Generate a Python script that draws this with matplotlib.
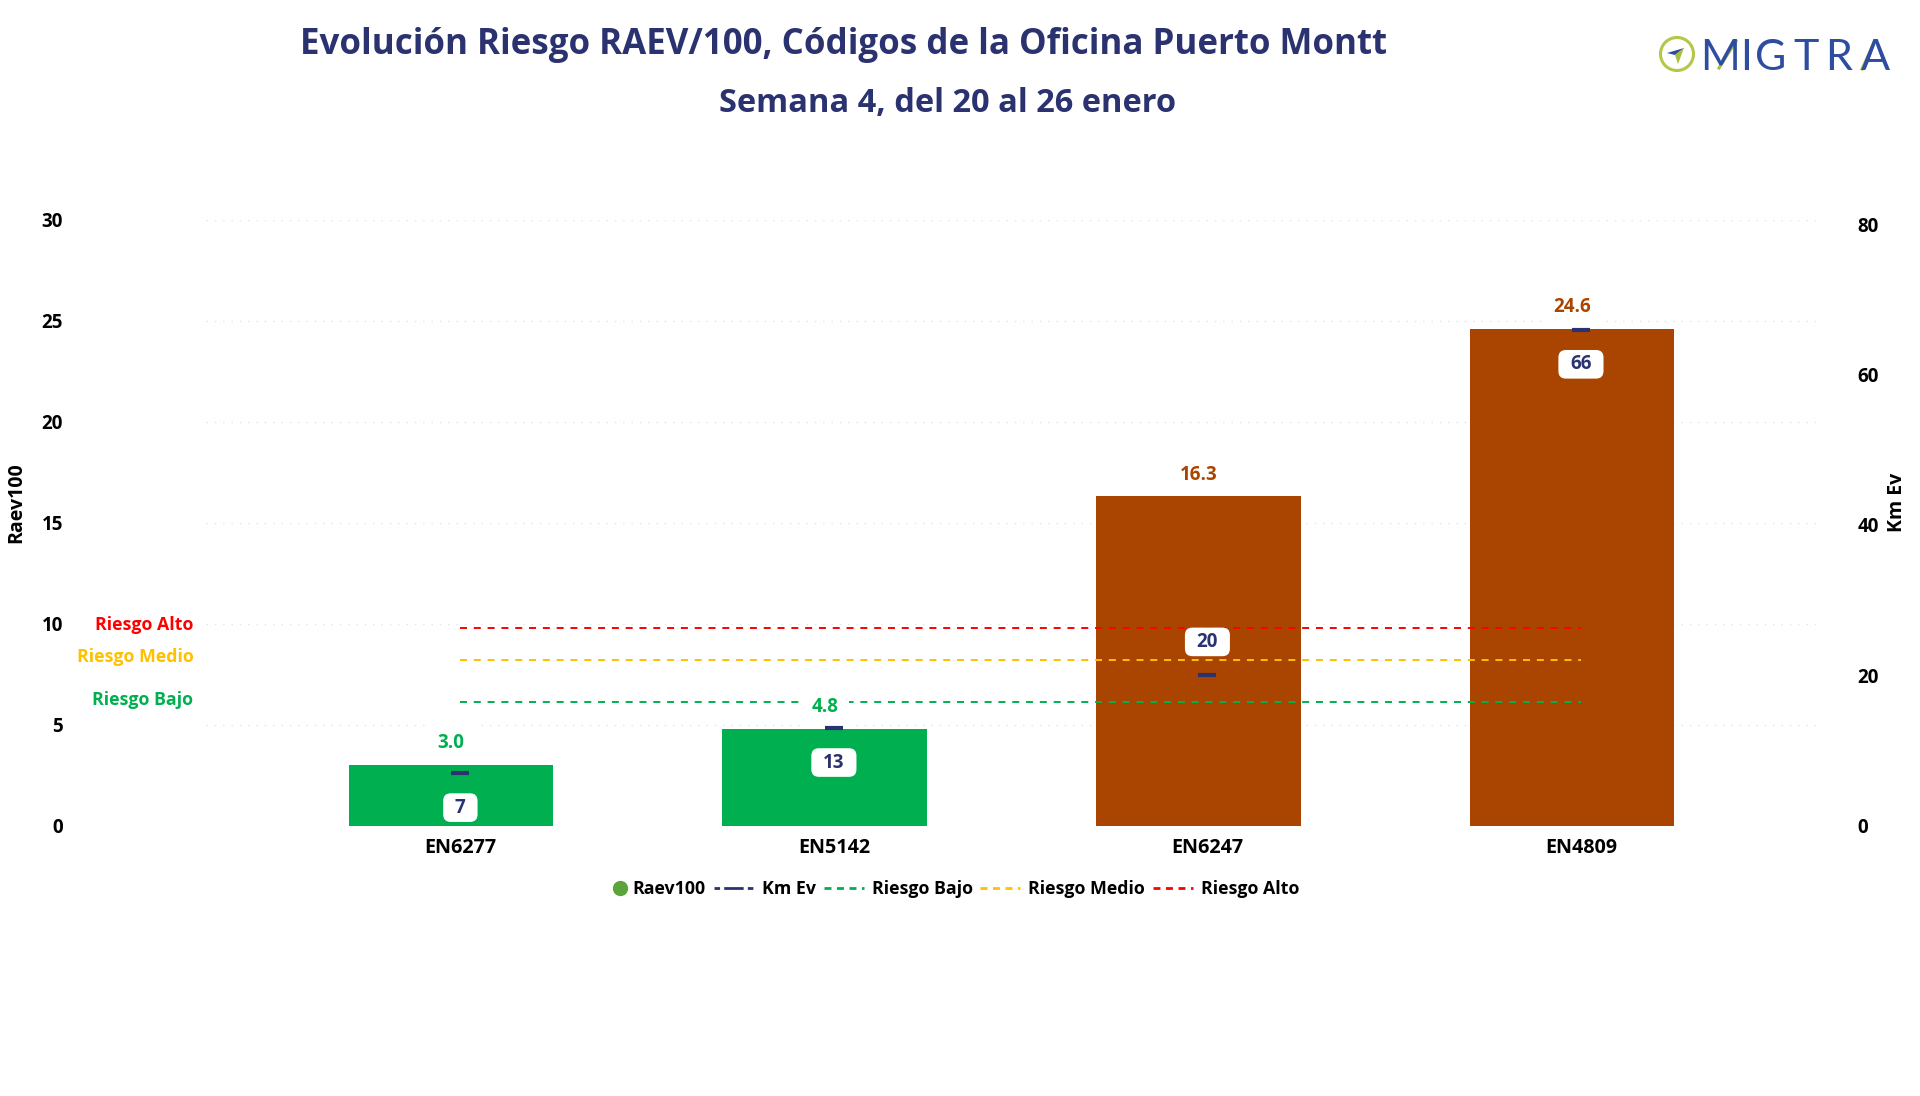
#!/usr/bin/env python
# Riesgo RAEV/100 por codigo, oficina Puerto Montt
import matplotlib
matplotlib.use('Agg')
import matplotlib.pyplot as plt
from matplotlib.lines import Line2D
from matplotlib.patches import BoxStyle, Circle, Polygon

codes = ['EN6277', 'EN5142', 'EN6247', 'EN4809']
raev100 = [3.0, 4.8, 16.3, 24.6]
km_ev = [7, 13, 20, 66]
risk_names = ['Riesgo Bajo', 'Riesgo Medio', 'Riesgo Alto']
risk_levels = [6.1, 8.2, 9.8]
left_ticks = [0, 5, 10, 15, 20, 25, 30]
right_ticks = [0, 20, 40, 60, 80]

GREEN = '#00B050'
BROWN = '#A94500'
NAVY = '#2B3270'
risk_colors = [GREEN, '#FFC000', '#FF0000']
bar_colors = [GREEN, GREEN, BROWN, BROWN]
BAR_SHIFT = -0.0245

W, H = 1920, 1096
plt.rcParams['font.family'] = ['Open Sans', 'DejaVu Sans']
plt.rcParams['font.weight'] = 'bold'
plt.rcParams['axes.labelweight'] = 'bold'


def fx(px):
    return px / W


def fy(px):
    return 1 - px / H


def km_box(x0, y0, width, height, mutation_size):
    # Wider than tall, a plain round box has one pad for both directions
    dx = 7.5
    return BoxStyle.Round(pad=0.23, rounding_size=0.4)(
        x0 - dx, y0, width + 2 * dx, height, mutation_size)


fig = plt.figure(figsize=(W / 100, H / 100), dpi=100)
left, right, top, bottom = 206, 1820, 219.5, 825.5
ax = fig.add_axes([fx(left), fy(bottom), (right - left) / W, (bottom - top) / H])
ax2 = ax.twinx()
ax.set_zorder(1)
ax2.set_zorder(2)
ax2.patch.set_visible(False)
xs = list(range(len(codes)))
bar_xs = [x + BAR_SHIFT for x in xs]

# Bars and risk lines
ax.bar(bar_xs, raev100, width=0.5475, color=bar_colors, zorder=2)
for name, level, color in zip(risk_names, risk_levels, risk_colors):
    ax.plot(xs, [level] * len(xs), color=color, lw=1.4, ls=(0, (3.6, 3.5)), zorder=3)
    ax.annotate(name, (0, level), xycoords=ax.get_yaxis_transform(),
                xytext=(-9, 2), textcoords='offset points', ha='right',
                va='center', color=color, fontsize=12.8)
for x, val, color in zip(bar_xs, raev100, bar_colors):
    ax.annotate('%.1f' % val, (x, val), xytext=(0, 15.5), textcoords='offset points',
                ha='center', va='center', color=color, fontsize=13.5, zorder=5,
                bbox=dict(boxstyle='square,pad=0.6', fc='white', ec='none'))

ax.set_xlim(-0.681, 3.640)
ax.set_ylim(0, 30)
ax.set_yticks(left_ticks)
ax.set_xticks(xs, codes)
ax.grid(axis='y', color='#E4E4E4', lw=1, ls=(0, (1, 5)), zorder=0)
ax.set_axisbelow(True)
ax.tick_params(axis='y', length=0, pad=103, labelsize=13.5)
ax.tick_params(axis='x', length=0, pad=9, labelsize=14.2)
ax.set_ylabel('Raev100', fontsize=14)
ax.yaxis.set_label_coords((26 - left) / (right - left), 0.533)

# Km Ev markers and their boxed labels
ax2.plot(xs, km_ev, ls='', marker='_', ms=13, mew=3, color=NAVY, zorder=4)
for i, (x, km) in enumerate(zip(xs, km_ev)):
    dy = 24 if i == 2 else -25
    ax2.annotate(str(km), (x, km), xytext=(0, dy), textcoords='offset points',
                 ha='center', va='center', color=NAVY, fontsize=13.5, zorder=6,
                 bbox=dict(boxstyle=km_box, fc='white', ec='none'))
ax2.set_ylim(0, 80.65)
ax2.set_yticks(right_ticks)
ax2.tick_params(axis='y', length=0, pad=27, labelsize=13.5)
ax2.set_ylabel('Km Ev', fontsize=14)
ax2.yaxis.set_label_coords((1887 - left) / (right - left), 0.533)

for a in (ax, ax2):
    for spine in a.spines.values():
        spine.set_visible(False)

# Legend, two parts because the circle sits close to its text
first = [Line2D([], [], ls='', marker='o', ms=10, color='#5BA33A', label='Raev100')]
rest = [Line2D([], [], color=NAVY, lw=2, ls=(0, (2, 1.5, 7, 1.5)), label='Km Ev')]
for name, color in zip(risk_names, risk_colors):
    rest.append(Line2D([], [], color=color, lw=2, ls=(0, (2.5, 2)), label=name))
fig.legend(handles=first, loc='center right', bbox_to_anchor=(fx(706), fy(889)),
           frameon=False, fontsize=12.8, handlelength=0.8, handletextpad=0.3,
           borderpad=0, borderaxespad=0)
fig.legend(handles=rest, loc='center left', bbox_to_anchor=(fx(714), fy(889)), ncols=4,
           frameon=False, fontsize=12.8, handlelength=2.25, handletextpad=0.45,
           columnspacing=0.43, borderpad=0, borderaxespad=0)

# Titles
fig.text(fx(843), fy(45), 'Evolución Riesgo RAEV/100, Códigos de la Oficina Puerto Montt',
         ha='center', va='center', color=NAVY, fontsize=25.1)
fig.text(fx(948), fy(104), 'Semana 4, del 20 al 26 enero',
         ha='center', va='center', color=NAVY, fontsize=23.5)

# Logo
logo = fig.add_axes([0, 0, 1, 1], zorder=5)
logo.set_axis_off()
logo.set_xlim(0, W)
logo.set_ylim(H, 0)
logo.add_patch(Circle((1677, 54), 16.5, fc='none', ec='#B5C64A', lw=2.2))
logo.add_patch(Polygon([[1684, 48], [1667, 53], [1675, 55]], fc='#2E4A9E', ec='none'))
logo.add_patch(Polygon([[1684, 48], [1675, 55], [1678, 64]], fc='#A9BE3C', ec='none'))
for letter, cx in zip('MIGTRA', [1720, 1746, 1771, 1806, 1839, 1875]):
    logo.text(cx, 58, letter, ha='center', va='center', color='#2F4DA0', fontsize=31,
              fontweight='normal', family='Lato')
logo.plot([1719, 1736], [68, 41], color='#A9BE3C', lw=2.2)
logo.plot([1862, 1875], [69, 41], color='#A9BE3C', lw=2.2)

fig.savefig('out.png', dpi=100, facecolor='white')
